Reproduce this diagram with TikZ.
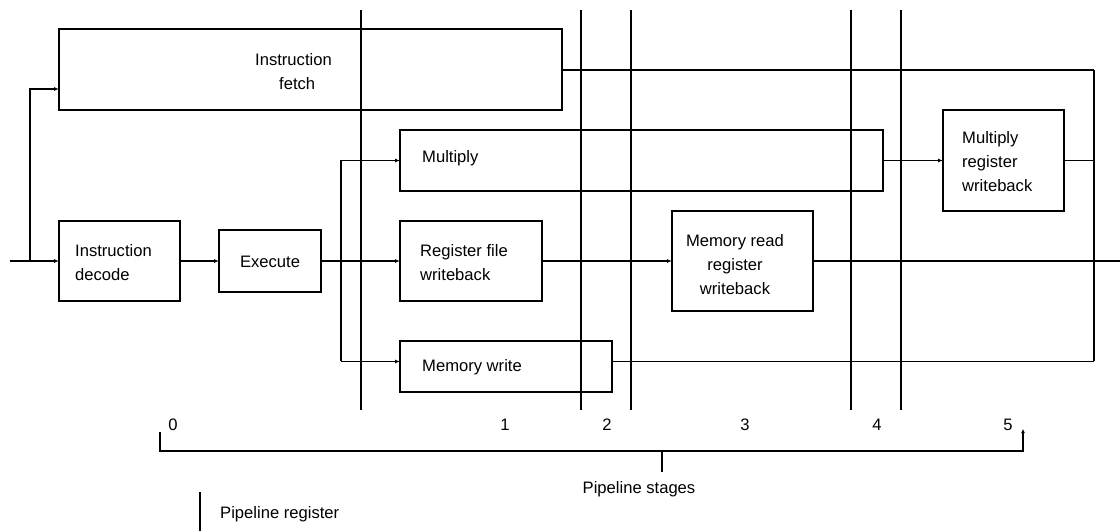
\documentclass[tikz,border=0pt]{standalone}
\usepackage{fontspec}
\setmainfont{Liberation Sans}
\usetikzlibrary{arrows.meta}
\begin{document}
\begin{tikzpicture}[x=1bp, y=-1bp,
  >={Latex[length=5bp,width=4bp]},
  box/.style={draw, line width=1.8bp, inner sep=0pt, outer sep=0pt},
  txt/.style={inner sep=0pt, font=\fontsize{16.6bp}{24bp}\selectfont},
  thickline/.style={line width=1.9bp},
  thinline/.style={line width=1bp},
  preg/.style={line width=2.2bp},
  brace/.style={line width=2bp}]
\useasboundingbox (0,0) rectangle (1120,531);

% functional units
\node[box, minimum width=503bp, minimum height=81bp] (fetch)    at (310.5,69.5) {};
\node[box, minimum width=121bp, minimum height=80bp] (decode)   at (119.5,261) {};
\node[box, minimum width=102bp, minimum height=62bp] (execute)  at (270,261) {};
\node[box, minimum width=483bp, minimum height=61bp] (multiply) at (641.5,160.5) {};
\node[box, minimum width=142bp, minimum height=80bp] (rfw)      at (471,261) {};
\node[box, minimum width=212bp, minimum height=51bp] (memwrite) at (506,366.5) {};
\node[box, minimum width=141bp, minimum height=100bp] (memread) at (742.5,261) {};
\node[box, minimum width=121bp, minimum height=101bp] (mrw)     at (1003.5,160.5) {};

% labels of the units
\node[txt, anchor=west, align=left] (fetchtxt) at (255,72) {Instruction\\\hspace*{24bp}fetch};
\node[txt, anchor=west, align=left] (decodetxt) at (75,263) {Instruction\\decode};
\node[txt] (executetxt) at (270,262) {Execute};
\node[txt, anchor=west] (multiplytxt) at (422,158) {Multiply};
\node[txt, anchor=west, align=left] (rfwtxt) at (420,263) {Register file\\writeback};
\node[txt, anchor=west] (memwritetxt) at (422,367) {Memory write};
\node[txt, align=center] (memreadtxt) at (735,265) {Memory read\\register\\writeback};
\node[txt, anchor=west, align=left] (mrwtxt) at (962,162) {Multiply\\register\\writeback};

% connection points
\coordinate (in) at (10,261);
\coordinate (split) at (30,261);
\coordinate (fetchin) at (59,89);
\coordinate (fan) at (341,261);
\coordinate (memin) at (400,361.5);
\coordinate (bustop) at (1094,70);
\coordinate (busbot) at (1094,361.5);
\coordinate (out) at (1120,261);

% instruction flow
\draw[thickline, ->] (in) -- (decode.west);
\draw[thickline, ->] (split) |- (fetchin);
\draw[thickline, ->] (decode.east) -- (execute.west);
\draw[thickline, ->] (execute.east) -- (rfw.west);
\draw[thickline] (fan |- multiply.west) -- (fan |- memin);
\draw[thinline, ->] (fan |- multiply.west) -- (multiply.west);
\draw[thinline, ->] (fan |- memin) -- (memin);
\draw[thickline, ->] (rfw.east) -- (memread.west);
\draw[thickline] (memread.east) -- (out);
\draw[thinline, ->] (multiply.east) -- (mrw.west);

% collecting lines on the right
\draw[thickline] (fetch.east |- bustop) -- (bustop);
\draw[line width=1.4bp] (bustop) -- (busbot);
\draw[thinline] (mrw.east) -- (mrw.east -| bustop);
\draw[thinline] (memwrite.east |- busbot) -- (busbot);

% pipeline registers
\foreach \px in {361,581,631,851,901}
  \draw[preg] (\px,10) -- (\px,410);

% stage numbers
\foreach \sx/\sn in {173/0,505/1,607/2,745/3,877/4,1008/5}
  \node[txt] (stage\sn) at (\sx,425) {\sn};

% brace over the stages
\coordinate (bl) at (160,432);
\coordinate (blb) at (160,451);
\coordinate (brb) at (1023,451);
\coordinate (brt) at (1023,429);
\coordinate (mid) at (662,451);
\coordinate (midb) at (662,472);
\draw[brace, -{Latex[length=4bp,width=4bp]}] (bl) -- (blb) -- (brb) -- (brt);
\draw[brace] (mid) -- (midb);
\node[txt] (stagestxt) at (639,489) {Pipeline stages};

% legend
\coordinate (legtop) at (200,492);
\coordinate (legbot) at (200,531);
\draw[preg] (legtop) -- (legbot);
\node[txt, anchor=west] (legtxt) at (220,514) {Pipeline register};
\end{tikzpicture}
\end{document}
